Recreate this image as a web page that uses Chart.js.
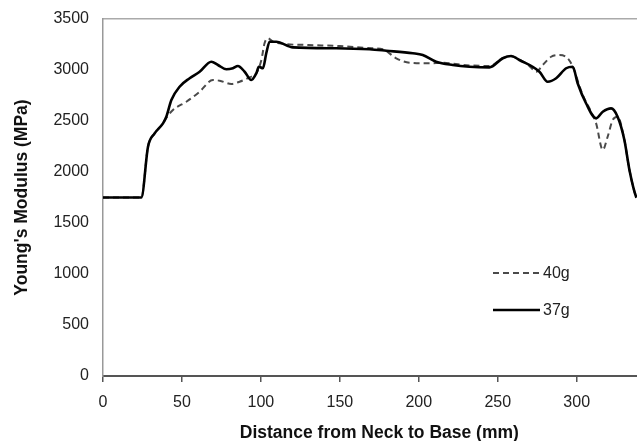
<!DOCTYPE html>
<html>
<head>
<meta charset="utf-8">
<script src="https://cdn.jsdelivr.net/npm/chart.js@4.4.1/dist/chart.umd.min.js"></script>
<style>
  html, body { margin: 0; padding: 0; background: #fff; overflow: hidden; width: 637px; height: 441px; }
</style>
</head>
<body>
<canvas id="modchart" width="680" height="441"></canvas>
<script>
// distance along bottle (mm) and Young's modulus (MPa)
var dist37 = [0, 24.3, 28.5, 32.7, 38, 40.1, 43.3, 48.5, 54.9, 61.2, 68.6, 72.8, 78.1, 82.3, 85.4, 89.7, 93.9, 97.1, 98.7, 101.3, 103.4, 105.5, 109.7, 120.3, 147.7, 168.8, 179.4, 196.2, 202.5, 211, 221.5, 232.1, 244.7, 253.2, 258.5, 263.7, 276.4, 281.6, 287, 293.3, 297.5, 300.6, 305.9, 312.3, 316.5, 321.8, 325.9, 330.2, 333.4, 337.6, 338];
var mod37 = [1750, 1750, 2248, 2379, 2477, 2542, 2706, 2836, 2919, 2983, 3081, 3049, 3007, 3017, 3039, 2983, 2902, 2968, 3032, 3017, 3164, 3277, 3277, 3222, 3213, 3203, 3189, 3164, 3147, 3081, 3049, 3032, 3026, 3115, 3137, 3098, 2983, 2885, 2919, 3017, 3032, 2870, 2674, 2526, 2591, 2624, 2542, 2314, 2020, 1758, 1750];

var dist40 = [0, 24.3, 28.5, 32.7, 38, 39.2, 44.3, 52.8, 61.2, 69.6, 73.9, 81.3, 86.5, 92.8, 97.1, 100.3, 102.3, 104.4, 108, 115, 130, 150, 168, 177.2, 185.7, 194.1, 206.8, 215, 232, 245, 253, 258.5, 264, 270, 274.3, 278.5, 283.8, 289.1, 294.3, 297.5, 303.8, 309.1, 312.3, 316.5, 319.6, 322.8, 325.9, 330.2, 333.4, 337.6, 338];
var mod40 = [1750, 1750, 2248, 2379, 2477, 2510, 2608, 2689, 2787, 2902, 2895, 2863, 2885, 2928, 2968, 3098, 3262, 3311, 3275, 3255, 3245, 3235, 3215, 3203, 3115, 3072, 3066, 3070, 3045, 3040, 3115, 3135, 3100, 3040, 2983, 3049, 3130, 3147, 3115, 3032, 2755, 2591, 2477, 2216, 2346, 2510, 2542, 2314, 2020, 1758, 1750];

var xTicks = [0, 50, 100, 150, 200, 250, 300, 350];
var yTicks = [0, 500, 1000, 1500, 2000, 2500, 3000, 3500];

function toPoints(xs, ys) {
    var pts = [];
    for (let i = 0; i < xs.length; i++) {
        pts.push({x: xs[i], y: ys[i]});
    }
    return pts;
}

var font = "'Liberation Sans', Arial, sans-serif";

// legend sits inside the plot, to the right
var insideLegend = {
    id: 'insideLegend',
    afterDraw(chart) {
        var ctx = chart.ctx;
        var rows = [1, 0];
        ctx.save();
        rows.forEach(function(di, k) {
            var ds = chart.data.datasets[di];
            var y = 273 + k * 37;
            ctx.beginPath();
            ctx.strokeStyle = ds.borderColor;
            ctx.lineWidth = ds.borderWidth;
            ctx.setLineDash(ds.borderDash || []);
            ctx.moveTo(493, y);
            ctx.lineTo(540, y);
            ctx.stroke();
            ctx.setLineDash([]);
            ctx.fillStyle = '#222';
            ctx.font = '16px ' + font;
            ctx.textBaseline = 'middle';
            ctx.fillText(ds.label, 543, y + 1);
        });
        ctx.restore();
    }
};

var ctx = document.getElementById('modchart').getContext('2d');
var modChart = new Chart(ctx, {
    type: 'line',
    data: {
        datasets: [
            {
                label: '37g',
                data: toPoints(dist37, mod37),
                borderColor: '#000',
                borderWidth: 2.6,
                pointRadius: 0,
                cubicInterpolationMode: 'monotone',
                fill: false,
                order: 0
            },
            {
                label: '40g',
                data: toPoints(dist40, mod40),
                borderColor: '#4a4a4a',
                borderWidth: 2,
                borderDash: [6, 4],
                pointRadius: 0,
                cubicInterpolationMode: 'monotone',
                fill: false,
                order: 1
            }
        ]
    },
    options: {
        responsive: false,
        animation: false,
        layout: { padding: { top: 19, left: 0, right: 0, bottom: 0 } },
        plugins: {
            legend: { display: false },
            tooltip: { enabled: false }
        },
        scales: {
            x: {
                type: 'linear',
                min: 0,
                max: 350,
                afterBuildTicks: function(scale) {
                    scale.ticks = xTicks.map(function(v) { return {value: v}; });
                },
                afterFit: function(scale) { scale.height = 65; },
                grid: { drawOnChartArea: false, drawTicks: true, tickLength: 6, color: '#555', lineWidth: 1.5 },
                border: { color: '#555', width: 2 },
                ticks: {
                    color: '#222', padding: 11, maxRotation: 0,
                    font: { family: font, size: 16 },
                    callback: function(v) { return String(v); }
                },
                title: {
                    display: true,
                    text: 'Distance from Neck to Base (mm)',
                    color: '#111',
                    padding: { top: 0, bottom: 0 },
                    font: { family: font, size: 17.5, weight: 'bold', lineHeight: 0.9 }
                }
            },
            top: {
                type: 'linear',
                position: 'top',
                min: 0,
                max: 350,
                afterFit: function(scale) { scale.height = 0; },
                grid: { display: false },
                ticks: { display: false },
                border: { color: '#aaa', width: 1.5 }
            },
            y: {
                min: 0,
                max: 3500,
                afterBuildTicks: function(scale) {
                    scale.ticks = yTicks.map(function(v) { return {value: v}; });
                },
                afterFit: function(scale) { scale.width = 103; },
                grid: { display: false },
                border: { color: '#999', width: 1.5 },
                ticks: {
                    color: '#222', padding: 6,
                    font: { family: font, size: 16 },
                    callback: function(v) { return String(v); }
                },
                title: {
                    display: true,
                    text: "Young's Modulus (MPa)",
                    color: '#111',
                    padding: { top: 13, bottom: 0 },
                    font: { family: font, size: 17.5, weight: 'bold', lineHeight: 1.0 }
                }
            }
        }
    },
    plugins: [insideLegend]
});
</script>
</body>
</html>
